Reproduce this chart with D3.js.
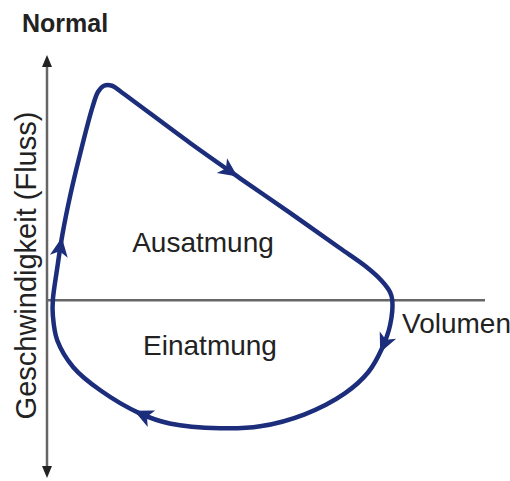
<!DOCTYPE html>
<html>
<head>
<meta charset="utf-8">
<script src="https://cdn.jsdelivr.net/npm/d3@7"></script>
<style>
  body { margin: 0; background: #fff; }
  text { font-family: "Liberation Sans", Arial, sans-serif; fill: #222; }
</style>
</head>
<body>
<div id="container"></div>
<script>
/* DATA */
// expiration: volume (L) vs flow (L/s), from start up over the peak to residual volume
const expVolume = [0.08, 0.14, 0.21, 0.32, 0.45, 0.62, 0.70, 0.78, 0.89, 1.03, 1.96, 2.64, 3.33, 4.01, 4.36, 4.59, 4.70, 4.73];
const expFlow   = [0,    1.33, 2.71, 4.38, 6.04, 8.0,  8.67, 8.92, 8.92, 8.63, 6.54, 5.08, 3.63, 2.17, 1.42, 0.79, 0.33, 0];
// inspiration: back from right to left under the axis
const insVolume = [4.70, 4.59, 4.40, 4.08, 3.53, 2.92, 2.37, 1.68, 1.27, 0.73, 0.36, 0.14, 0.08];
const insFlow   = [-1.04, -2.0, -3.0, -3.88, -4.75, -5.25, -5.33, -5.13, -4.71, -3.75, -2.79, -1.67, -0.63];
// where the direction arrows sit on the loop
const arrowVolume = [0.18, 2.51, 4.6, 1.27];
const arrowFlow   = [2.38, 5.13, -1.96, -4.7];

const labels = { title: 'Normal', yAxis: 'Geschwindigkeit (Fluss)', xAxis: 'Volumen', exp: 'Ausatmung', ins: 'Einatmung' };

const width = 510, height = 481;
const lineColor = '#1c2d7c';

const svg = d3.select('#container').append('svg')
  .attr('width', width)
  .attr('height', height);

// scales
const x = d3.scaleLinear().domain([0, 6]).range([47, 485]);
const y = d3.scaleLinear().domain([-7.4, 10.2]).range([478, 55]);

// axes
svg.append('line')
  .attr('x1', x(0)).attr('x2', x(0))
  .attr('y1', y(10.2) + 8).attr('y2', y(-7.4) - 8)
  .attr('stroke', '#666').attr('stroke-width', 2.5);
svg.append('line')
  .attr('x1', x(0)).attr('x2', x(6))
  .attr('y1', y(0)).attr('y2', y(0))
  .attr('stroke', '#666').attr('stroke-width', 2.5);

// axis arrow heads
const axisHead = 'M0,0 L-12,-5 L-12,5 Z';
svg.append('path').attr('d', axisHead).attr('fill', '#222')
  .attr('transform', `translate(${x(0)},${y(10.2)}) rotate(-90)`);
svg.append('path').attr('d', axisHead).attr('fill', '#222')
  .attr('transform', `translate(${x(0)},${y(-7.4)}) rotate(90)`);

// the loop
const loop = d3.zip(expVolume, expFlow).concat(d3.zip(insVolume, insFlow));
const line = d3.line()
  .x(d => x(d[0]))
  .y(d => y(d[1]))
  .curve(d3.curveCatmullRomClosed.alpha(0.5));

const loopPath = svg.append('path')
  .attr('d', line(loop))
  .attr('fill', 'none')
  .attr('stroke', lineColor)
  .attr('stroke-width', 4.5)
  .attr('stroke-linejoin', 'round');

// arrows: snap to the nearest point on the loop, turn along the tangent
const node = loopPath.node();
const total = node.getTotalLength();
const head = 'M6,0 L-13,-9 L-8,0 L-13,9 Z';
d3.zip(arrowVolume, arrowFlow).forEach(([v, f]) => {
  const tx = x(v), ty = y(f);
  let best = 0, bestD = Infinity;
  for (let l = 0; l < total; l += 1) {
    const p = node.getPointAtLength(l);
    const d = (p.x - tx) ** 2 + (p.y - ty) ** 2;
    if (d < bestD) { bestD = d; best = l; }
  }
  const p0 = node.getPointAtLength(Math.max(0, best - 3));
  const p1 = node.getPointAtLength(Math.min(total, best + 3));
  const p = node.getPointAtLength(best);
  const ang = Math.atan2(p1.y - p0.y, p1.x - p0.x) * 180 / Math.PI;
  svg.append('path')
    .attr('d', head)
    .attr('fill', lineColor)
    .attr('transform', `translate(${p.x},${p.y}) rotate(${ang})`);
});

// texts
svg.append('text')
  .attr('x', 22).attr('y', 32)
  .attr('font-size', 25).attr('font-weight', 'bold')
  .text(labels.title);

svg.append('text')
  .attr('transform', `translate(36,${(108 + 423) / 2}) rotate(-90)`)
  .attr('text-anchor', 'middle')
  .attr('font-size', 29)
  .text(labels.yAxis);

svg.append('text')
  .attr('x', 402).attr('y', 333)
  .attr('font-size', 28)
  .text(labels.xAxis);

svg.append('text')
  .attr('x', 203).attr('y', 252)
  .attr('text-anchor', 'middle')
  .attr('font-size', 28)
  .text(labels.exp);

svg.append('text')
  .attr('x', 210).attr('y', 355)
  .attr('text-anchor', 'middle')
  .attr('font-size', 28)
  .text(labels.ins);
</script>
</body>
</html>
